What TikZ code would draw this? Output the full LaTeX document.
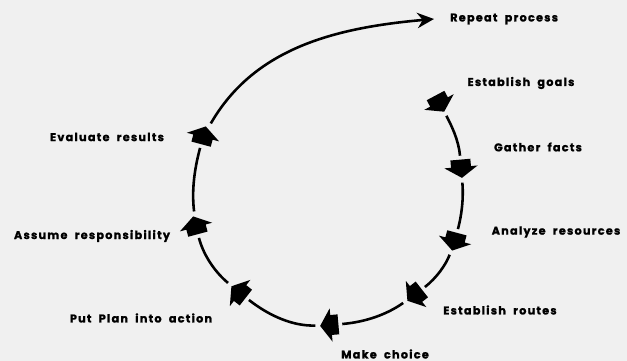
\documentclass[tikz,border=0pt]{standalone}
\usepackage{fontspec}
\newfontfamily\cyclefont[LetterSpace=11,WordSpace=2,BoldFeatures={FakeBold=1.2}]{Poppins}
\usetikzlibrary{arrows.meta,positioning,decorations.markings}

\newcommand{\housetip}{\fill (0.33,0) -- (0,0.5) -- (0,0.3) -- (-0.22,0.3)
               -- (-0.22,-0.3) -- (0,-0.3) -- (0,-0.5) -- cycle;}

\begin{document}
\begin{tikzpicture}[
   lbl/.style={font=\cyclefont\bfseries\fontsize{9.6}{11}\selectfont,inner sep=0pt},
   flow/.style={line width=2.2pt,shorten >=0.34cm,shorten <=0.47cm,
               postaction={decorate,decoration={markings,
                 mark=at position 0.999 with {\housetip}}}},
   flowstart/.style={postaction={decorate,decoration={markings,
                 mark=at position 0 with {\housetip}}}},
   arr/.style={-{Stealth[length=5mm,width=4.6mm,inset=1.6mm]},line width=2.2pt}
  ]
  \fill[black!6] (0,0) rectangle (18.81,10.83);
  \useasboundingbox (0,0) rectangle (18.81,10.83);

  % points on the cycle
  \coordinate (goals)     at (13.17,7.77);
  \coordinate (facts)     at (13.83,5.82);
  \coordinate (resources) at (13.65,3.63);
  \coordinate (routes)    at (12.48,2.01);
  \coordinate (choice)    at (9.93,1.08);
  \coordinate (plan)      at (7.20,2.04);
  \coordinate (resp)      at (5.88,4.02);
  \coordinate (eval)      at (6.09,6.72);
  \coordinate (repeat)    at (13.02,10.26);

  \draw[flow,flowstart] (goals) to[out=-62,in=95] (facts);
  \draw[flow] (facts) to[out=-85,in=75] (resources);
  \draw[flow] (resources) to[out=-110,in=38] (routes);
  \draw[flow] (routes) to[out=-145,in=5] (choice);
  \draw[flow] (choice) to[out=182,in=-38] (plan);
  \draw[flow] (plan) to[out=140,in=-75] (resp);
  \draw[flow] (resp) to[out=97,in=-105] (eval);
  \draw[arr,shorten <=0.47cm] (eval) to[out=60,in=185] (repeat);

  % labels
  \node[lbl,right=4.8mm of repeat] (repeattxt) {Repeat process};
  \node[lbl] (goalstxt)     at (15.63,8.34) {Establish goals};
  \node[lbl] (factstxt)     at (16.14,6.42) {Gather facts};
  \node[lbl] (resourcestxt) at (16.68,3.87) {Analyze resources};
  \node[lbl] (routestxt)    at (15.00,1.53) {Establish routes};
  \node[lbl] (choicetxt)    at (11.55,0.21) {Make choice};
  \node[lbl] (plantxt)      at (4.23,1.29)  {Put Plan into action};
  \node[lbl] (resptxt)      at (2.76,3.75)  {Assume responsibility};
  \node[lbl] (evaltxt)      at (3.21,6.72)  {Evaluate results};
\end{tikzpicture}
\end{document}
